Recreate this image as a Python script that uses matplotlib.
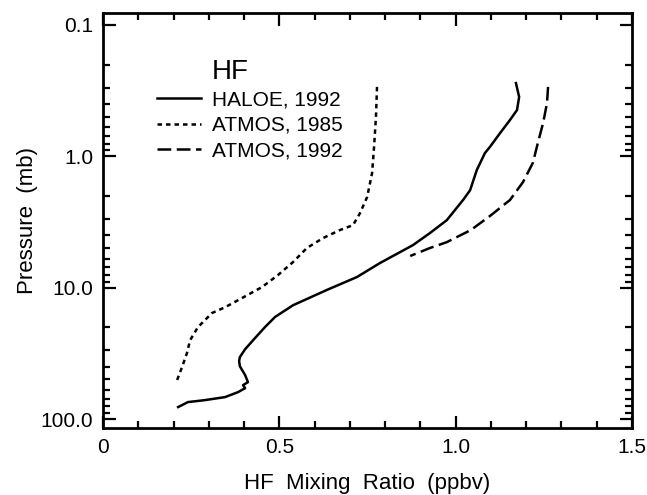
import matplotlib.pyplot as plt
import numpy as np
from matplotlib.ticker import FixedLocator, NullFormatter

plt.rcParams['font.family'] = ['Liberation Sans', 'DejaVu Sans']

# HALOE 1992 profile (ppbv vs mb)
haloe_x = [1.171, 1.180, 1.174, 1.154, 1.126, 1.097, 1.083, 1.060, 1.041, 1.021,
           0.975, 0.927, 0.879, 0.785, 0.720, 0.635, 0.539, 0.488, 0.459, 0.431,
           0.403, 0.388, 0.386, 0.388, 0.403, 0.411, 0.397, 0.403, 0.383, 0.346,
           0.289, 0.241, 0.213]
haloe_p = [0.277, 0.353, 0.444, 0.529, 0.665, 0.849, 0.944, 1.27, 1.81, 2.15,
           3.06, 3.84, 4.74, 6.50, 8.30, 10.4, 13.6, 16.7, 20.0, 24.2,
           29.4, 33.8, 36.2, 39.6, 46.3, 52.4, 55.2, 58.2, 62.4, 68.1,
           71.8, 74.3, 81.1]

# ATMOS 1985
atmos85_x = [0.777, 0.774, 0.768, 0.763, 0.749, 0.729, 0.709, 0.672, 0.624, 0.578,
             0.539, 0.496, 0.451, 0.394, 0.346, 0.309, 0.269, 0.247, 0.238, 0.224,
             0.210]
atmos85_p = [0.296, 0.502, 0.895, 1.34, 2.04, 2.70, 3.34, 3.64, 4.19, 4.99,
             6.38, 8.02, 9.89, 12.0, 14.1, 15.6, 20.0, 25.1, 31.5, 40.3,
             50.6]

# ATMOS 1992
atmos92_x = [1.262, 1.259, 1.248, 1.233, 1.219, 1.191, 1.154, 1.097, 1.043, 0.975,
             0.927, 0.871]
atmos92_p = [0.296, 0.393, 0.557, 0.792, 1.12, 1.57, 2.15, 2.85, 3.64, 4.50,
             4.99, 5.74]

x_major = [0, 0.5, 1.0, 1.5]
x_major_labels = ['0', '0.5', '1.0', '1.5']
y_major = [0.1, 1.0, 10.0, 100.0]
y_major_labels = ['0.1', '1.0', '10.0', '100.0']

fig = plt.figure(figsize=(6.47, 4.95), dpi=100)
ax = fig.add_axes([0.1592, 0.1354, 0.8176, 0.8384])

ax.plot(haloe_x, haloe_p, color='black', lw=1.8, label='HALOE, 1992')
ax.plot(atmos85_x, atmos85_p, color='black', lw=1.8, linestyle=(0, (1.8, 1.6)),
        label='ATMOS, 1985')
ax.plot(atmos92_x, atmos92_p, color='black', lw=1.8, linestyle=(0, (5.5, 2.2)),
        label='ATMOS, 1992')

ax.set_yscale('log')
ax.set_xlim(0, 1.5)
ax.set_ylim(117, 0.081)

ax.set_xticks(x_major)
ax.set_xticklabels(x_major_labels)
ax.xaxis.set_minor_locator(FixedLocator(np.arange(0.1, 1.5, 0.1)))
ax.set_yticks(y_major)
ax.set_yticklabels(y_major_labels)
minors = [m * d for d in (0.1, 1, 10) for m in range(2, 10)]
ax.yaxis.set_minor_locator(FixedLocator(minors))
ax.yaxis.set_minor_formatter(NullFormatter())

ax.tick_params(which='both', direction='in', top=True, right=True, width=1.6,
               labelsize=15, pad=7)
ax.tick_params(which='major', length=9)
ax.tick_params(which='minor', length=5)
for s in ax.spines.values():
    s.set_linewidth(2)

ax.set_xlabel('HF  Mixing  Ratio  (ppbv)', fontsize=16, labelpad=12)
ax.set_ylabel('Pressure  (mb)', fontsize=16, labelpad=2)

ax.text(0.206, 0.858, 'HF', transform=ax.transAxes, fontsize=20,
        ha='left', va='center')
ax.legend(loc='upper left', bbox_to_anchor=(0.102, 0.813), frameon=False,
          fontsize=15, handlelength=2.1, handletextpad=0.55, labelspacing=0.3,
          borderpad=0, borderaxespad=0)

fig.savefig('out.png', dpi=100)
